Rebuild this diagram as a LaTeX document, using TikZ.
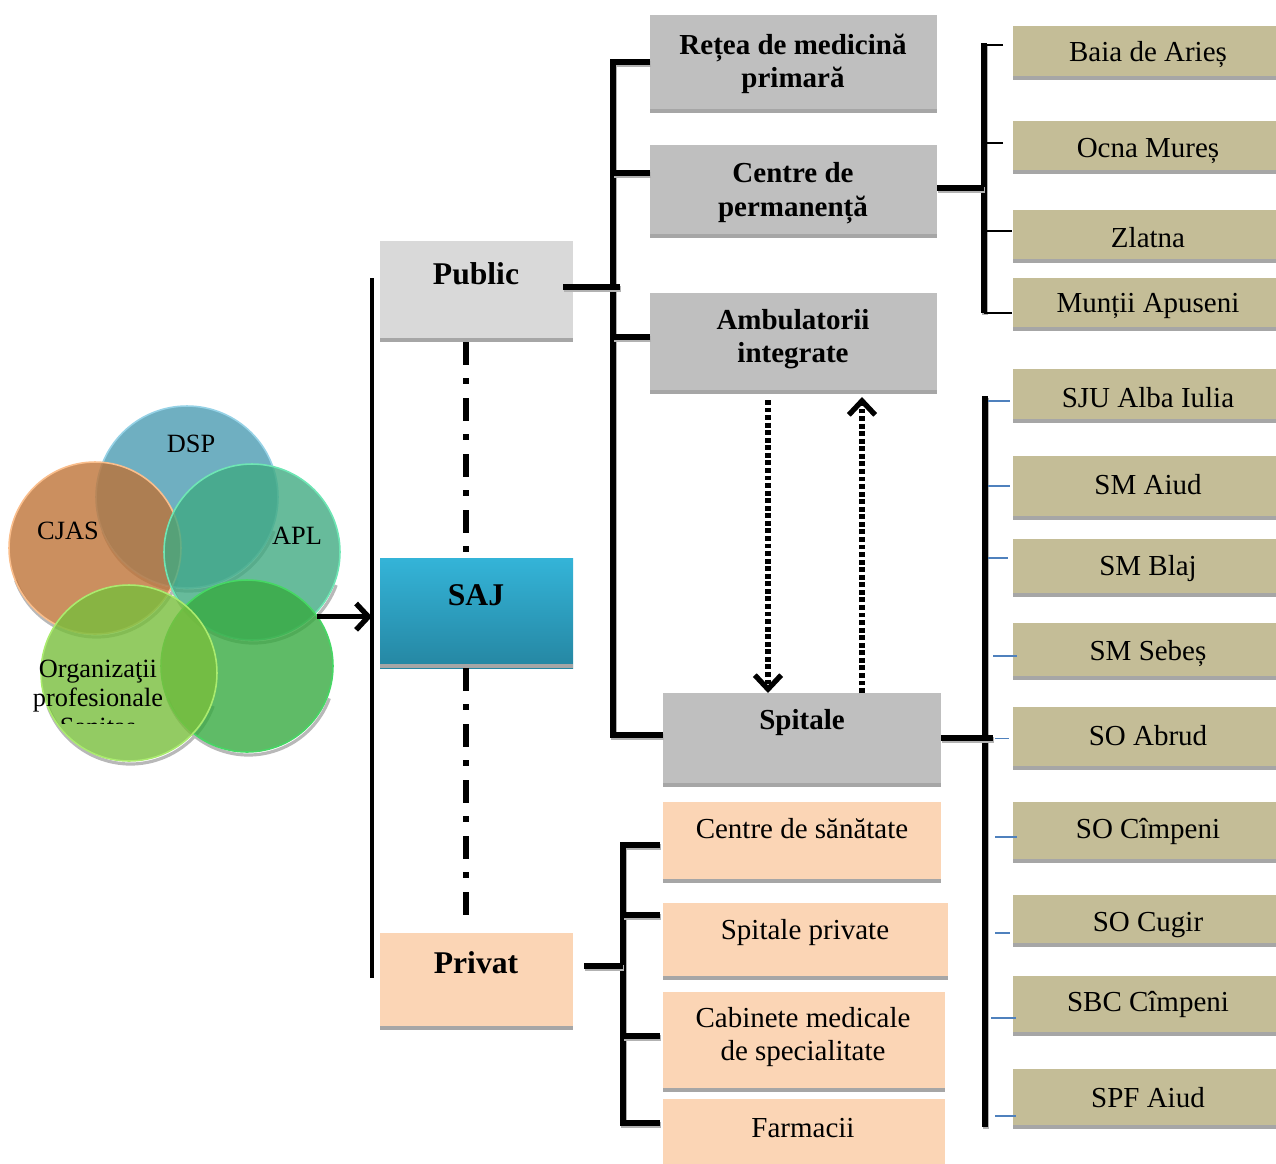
\documentclass[tikz,border=0pt]{standalone}
\usepackage{fontspec}
\setmainfont{Liberation Serif}
\usetikzlibrary{arrows.meta,calc}
\definecolor{pubgray}{RGB}{217,217,217}
\definecolor{boxgray}{RGB}{191,191,191}
\definecolor{stripgray}{RGB}{166,166,166}
\definecolor{khaki}{RGB}{196,189,151}
\definecolor{peach}{RGB}{251,213,181}
\definecolor{sajtop}{RGB}{52,180,216}
\definecolor{sajbot}{RGB}{37,134,162}
\definecolor{branchblue}{RGB}{79,129,189}
\definecolor{dspc}{RGB}{75,155,178}
\definecolor{dsprim}{RGB}{150,210,230}
\definecolor{cjasc}{RGB}{190,115,55}
\definecolor{cjasrim}{RGB}{250,190,140}
\definecolor{aplc}{RGB}{65,170,130}
\definecolor{aplrim}{RGB}{110,230,180}
\definecolor{grnc}{RGB}{55,170,65}
\definecolor{grnrim}{RGB}{70,215,100}
\definecolor{orgc}{RGB}{120,190,60}
\definecolor{orgrim}{RGB}{170,235,110}
\newcommand\placebox[6]{\node[box,#6,minimum width={(#4-#2)*0.02cm},minimum height={(#5-#3)*0.02cm}] (#1) at ({(#2+#4)/2},{(#3+#5)/2}) {};}
\newcommand\bluebranch[4]{\draw[bluel] ($(#1.west)+(#3,#2)$) -- ($(#1.west)+(#4,#2)$);}
\begin{document}
\begin{tikzpicture}[x=0.02cm, y=-0.02cm,
  box/.style={rectangle, inner sep=0pt, outer sep=0pt, draw=none,
    path picture={\fill[stripgray] ([yshift=0.085cm]path picture bounding box.south west) rectangle (path picture bounding box.south east);}},
  venn/.style={circle, inner sep=0pt, outer sep=0pt, fill opacity=0.8, line width=0.9pt},
  shadowc/.style={black!28, line width=1.8pt},
  thickl/.style={line width=3.1pt, black, preaction={draw=black!30, line width=3.1pt, transform canvas={shift={(0.6pt,-1.1pt)}}}},
  thinl/.style={line width=1.1pt, black},
  bluel/.style={line width=1pt, branchblue},
  dashdotl/.style={line width=3pt, black, dash pattern=on 13pt off 7.5pt on 3.4pt off 8pt},
  dotl/.style={line width=3pt, black, dash pattern=on 2.8pt off 1.5pt, -{Straight Barb[length=8pt, width=15pt, line width=3pt]}},
  tbig/.style={inner sep=0pt, font=\fontsize{18}{21}\selectfont\bfseries},
  tmidb/.style={inner sep=0pt, align=center, font=\fontsize{16.5}{19}\selectfont\bfseries},
  tmid/.style={inner sep=0pt, align=center, font=\fontsize{16.5}{19}\selectfont},
  tcirc/.style={inner sep=0pt, align=center, font=\fontsize{15}{16.5}\selectfont}
]
\useasboundingbox (0,0) rectangle (1276,1164);

% ---- circle shadows ----
\draw[shadowc] ($(187,497)+(1.5,3)$) ++(160:91) arc[start angle=160, end angle=20, radius=91];
\draw[shadowc] ($(95,548)+(1.5,3)$) ++(160:86) arc[start angle=160, end angle=20, radius=86];
\draw[shadowc] ($(252,552)+(1.5,3)$) ++(160:88) arc[start angle=160, end angle=20, radius=88];
\draw[shadowc] ($(247,666)+(1.5,3)$) ++(160:86) arc[start angle=160, end angle=20, radius=86];
\draw[shadowc] ($(129,673)+(1.5,3)$) ++(160:88) arc[start angle=160, end angle=20, radius=88];

% ---- circles ----
\node[venn, fill=dspc, draw=dsprim, minimum size=3.64cm] (dsp) at (187,497) {};
\node[venn, fill=cjasc, draw=cjasrim, minimum size=3.44cm] (cjas) at (95,548) {};
\node[venn, fill=aplc, draw=aplrim, minimum size=3.52cm] (apl) at (252,552) {};
\node[venn, fill=grnc, draw=grnrim, minimum size=3.44cm] (grn) at (247,666) {};
\node[venn, fill=orgc, draw=orgrim, minimum size=3.52cm] (org) at (129,673) {};
\node[tcirc] (tdsp) at (191,444) {DSP};
\node[tcirc] (tcjas) at (68,531) {CJAS};
\node[tcirc] (tapl) at (297,536) {APL};
\begin{scope}
  \clip (10,640) rectangle (220,723);
  \node[tcirc] (torg) at (98,698) {Organizaţii\\profesionale\\Sanitas};
\end{scope}

% ---- boxes ----
\placebox{public}{380}{241}{573}{342}{fill=pubgray}
\placebox{saj}{380}{558}{573}{668}{top color=sajtop, bottom color=sajbot}
\placebox{privat}{380}{933}{573}{1030}{fill=peach}
\placebox{retea}{650}{15}{937}{113}{fill=boxgray}
\placebox{centre}{650}{145}{937}{238}{fill=boxgray}
\placebox{amb}{650}{293}{937}{394}{fill=boxgray}
\placebox{spit}{663}{693}{941}{787}{fill=boxgray}
\placebox{cs}{663}{802}{941}{883}{fill=peach}
\placebox{sp}{663}{903}{948}{980}{fill=peach}
\placebox{cab}{663}{992}{945}{1092}{fill=peach}
\placebox{farm}{663}{1099}{945}{1170}{fill=peach}
\placebox{baia}{1013}{26}{1280}{80}{fill=khaki}
\placebox{ocna}{1013}{121}{1280}{174}{fill=khaki}
\placebox{zlat}{1013}{210}{1280}{263}{fill=khaki}
\placebox{munt}{1013}{278}{1280}{331}{fill=khaki}
\placebox{sju}{1013}{369}{1280}{423}{fill=khaki}
\placebox{sma}{1013}{456}{1280}{520}{fill=khaki}
\placebox{smb}{1013}{539}{1280}{597}{fill=khaki}
\placebox{sms}{1013}{623}{1280}{680}{fill=khaki}
\placebox{soa}{1013}{707}{1280}{770}{fill=khaki}
\placebox{soc}{1013}{802}{1280}{863}{fill=khaki}
\placebox{socu}{1013}{895}{1280}{947}{fill=khaki}
\placebox{sbc}{1013}{976}{1280}{1036}{fill=khaki}
\placebox{spf}{1013}{1069}{1280}{1129}{fill=khaki}

% ---- left trunk and arrow ----
\coordinate (lt1) at (372,278);
\coordinate (lt2) at (372,978);
\draw[line width=2.5pt] (lt1) -- (lt2);
\draw[line width=3pt, -{Straight Barb[length=7pt, width=15pt, line width=3pt]}] (grn.35) -- (grn.35 -| lt1);

% ---- dash-dot links ----
\draw[dashdotl] ([xshift=-0.21cm]public.south) -- ([xshift=-0.21cm]saj.north);
\draw[dashdotl] ([xshift=-0.21cm]saj.south) -- ([xshift=-0.21cm,yshift=0.16cm]privat.north);

% ---- middle trunk ----
\coordinate (mx) at (613,0);
\coordinate (mc1) at ($(retea.west)+(0,-2)$);
\coordinate (mc2) at ($(centre.west)+(0,-18.5)$);
\coordinate (mc3) at ($(amb.west)+(0,-6.5)$);
\coordinate (mc4) at ($(spit.west)+(0,-5)$);
\draw[thickl] (mc1) -- (mc1 -| mx) -- (mc4 -| mx) -- (mc4);
\draw[thickl] (mc2) -- (mc2 -| mx);
\draw[thickl] (mc3) -- (mc3 -| mx);
\coordinate (pbe) at ($(public.east)+(-10,-4.5)$);
\draw[thickl] (pbe) -- ($(pbe -| mx)+(7,0)$);

% ---- dotted arrows ----
\coordinate (d1) at ($(amb.south)+(-25.5,6)$);
\draw[dotl] (d1) -- (d1 |- spit.north);
\coordinate (u1) at ($(spit.north)+(60,0)$);
\draw[dotl] (u1) -- ($(u1 |- amb.south)+(0,3)$);

% ---- right top trunk ----
\coordinate (rtx) at (984,0);
\coordinate (rb1) at ($(baia.west)+(-10,-8)$);
\coordinate (rb2) at ($(ocna.west)+(-10,-4.5)$);
\coordinate (rb3) at ($(zlat.west)+(-1,-5.5)$);
\coordinate (rb4) at ($(munt.west)+(-1,8.5)$);
\draw[thickl] ($(rb1 -| rtx)+(0,-2)$) -- (rb4 -| rtx);
\draw[thinl] (rb1) -- (rb1 -| rtx);
\draw[thinl] (rb2) -- (rb2 -| rtx);
\draw[thinl] (rb3) -- (rb3 -| rtx);
\draw[thinl] (rb4) -- (rb4 -| rtx);
\coordinate (ce) at ($(centre.east)+(0,-3.5)$);
\draw[thickl] (ce) -- (ce -| rtx);

% ---- right bottom trunk ----
\coordinate (rbx) at (985,0);
\draw[thickl] ($(sju.west -| rbx)$) -- ($(spf.west -| rbx)+(0,28)$);
\coordinate (se) at ($(spit.east)+(0,-2)$);
\draw[thickl] (se) -- ($(se -| rbx)+(8,0)$);
\bluebranch{sju}{5}{-25}{-3}
\bluebranch{sma}{-2}{-25}{-3}
\bluebranch{smb}{-10}{-25}{-5}
\bluebranch{sms}{4.5}{-20}{4}
\bluebranch{soa}{0}{-18}{-4}
\bluebranch{soc}{4.5}{-18}{4}
\bluebranch{socu}{12}{-18}{-3}
\bluebranch{sbc}{12}{-22}{3}
\bluebranch{spf}{17}{-18}{3}

% ---- private trunk ----
\coordinate (pvx) at (623,0);
\coordinate (pc1) at ($(cs.west)+(-3,2.5)$);
\coordinate (pc2) at ($(sp.west)+(-3,-26.5)$);
\coordinate (pc3) at ($(cab.west)+(-3,-6)$);
\coordinate (pc4) at ($(farm.west)+(-3,-11.5)$);
\draw[thickl] (pc1) -- (pc1 -| pvx) -- (pc4 -| pvx) -- (pc4);
\draw[thickl] (pc2) -- (pc2 -| pvx);
\draw[thickl] (pc3) -- (pc3 -| pvx);
\coordinate (pe) at ($(privat.east)+(11,-15.5)$);
\draw[thickl] (pe) -- (pe -| pvx);

% ---- texts ----
\node[tbig] (tpub) at (476,274) {Public};
\node[tbig] (tsaj) at (476,595) {SAJ};
\node[tbig] (tpriv) at (476,963) {Privat};
\node[tmidb] (tret) at (793,64) {Rețea de medicină\\primară};
\node[tmidb] (tcen) at (793,193) {Centre de\\permanență};
\node[tmidb] (tamb) at (793,339) {Ambulatorii\\integrate};
\node[tmidb] (tspit) at (802,723) {Spitale};
\node[tmid] (tcs) at (802,829) {Centre de sănătate};
\node[tmid] (tsp) at (805,933) {Spitale private};
\node[tmid] (tcab) at (803,1037) {Cabinete medicale\\de specialitate};
\node[tmid] (tfarm) at (803,1128) {Farmacii};
\node[tmid] (tbaia) at (1148,55) {Baia de Arieș};
\node[tmid] (tocna) at (1148,151) {Ocna Mureș};
\node[tmid] (tzlat) at (1148,238) {Zlatna};
\node[tmid] (tmunt) at (1148,306) {Munții Apuseni};
\node[tmid] (tsju) at (1148,398) {SJU Alba Iulia};
\node[tmid] (tsma) at (1148,485) {SM Aiud};
\node[tmid] (tsmb) at (1148,569) {SM Blaj};
\node[tmid] (tsms) at (1148,654) {SM Sebeș};
\node[tmid] (tsoa) at (1148,736) {SO Abrud};
\node[tmid] (tsoc) at (1148,831) {SO Cîmpeni};
\node[tmid] (tsocu) at (1148,925) {SO Cugir};
\node[tmid] (tsbc) at (1148,1004) {SBC Cîmpeni};
\node[tmid] (tspf) at (1148,1098) {SPF Aiud};
\end{tikzpicture}
\end{document}
